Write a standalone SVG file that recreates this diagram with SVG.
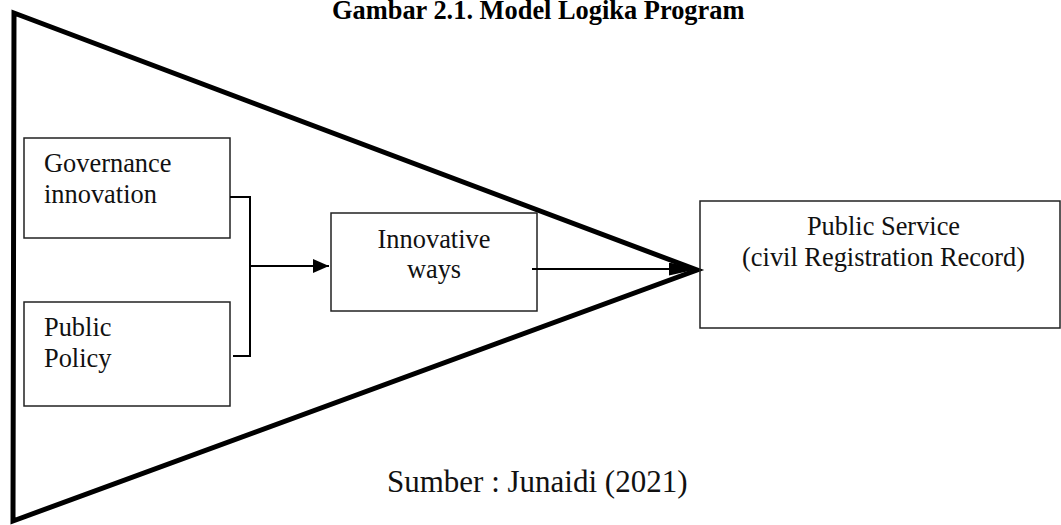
<svg xmlns="http://www.w3.org/2000/svg" width="1061" height="525" viewBox="0 0 1061 525">
  <style>
    .box { fill: none; stroke: #222; stroke-width: 1.5; }
    .lbl { font-family: "Liberation Serif", "Times New Roman", serif; font-size: 26.4px; fill: #111; }
    .line { stroke: #000; stroke-width: 2; fill: none; }
  </style>
  <defs>
    <marker id="arrow" markerWidth="16" markerHeight="14" refX="16" refY="7" orient="auto" markerUnits="userSpaceOnUse">
      <path d="M0,0 L16,7 L0,14 Z" fill="#000"/>
    </marker>
    <marker id="arrowBig" markerWidth="29" markerHeight="13" refX="29" refY="6.5" orient="auto" markerUnits="userSpaceOnUse">
      <path d="M0,0 L29,6.5 L0,13 Z" fill="#000"/>
    </marker>
  </defs>
  <rect width="1061" height="525" fill="#fff"/>

  <text x="332" y="18.5" font-family="Liberation Serif, Times New Roman, serif" font-weight="bold" font-size="26.4" fill="#000">Gambar 2.1. Model Logika Program</text>

  <!-- funnel triangle -->
  <g id="funnel">
    <polygon points="14,13 697,270 13,521" fill="none" stroke="#000" stroke-width="5" stroke-linejoin="miter"/>
  </g>

  <g id="governance">
    <rect class="box" x="24" y="138" width="206" height="100"/>
    <text class="lbl" x="44" y="172">Governance</text>
    <text class="lbl" x="44" y="203">innovation</text>
  </g>

  <g id="policy">
    <rect class="box" x="24" y="302" width="206" height="104"/>
    <text class="lbl" x="44" y="336">Public</text>
    <text class="lbl" x="44" y="367">Policy</text>
  </g>

  <g id="innovative">
    <rect class="box" x="331" y="213" width="206" height="98"/>
    <text class="lbl" x="434" y="248" text-anchor="middle">Innovative</text>
    <text class="lbl" x="434" y="278" text-anchor="middle">ways</text>
  </g>

  <g id="service">
    <rect class="box" x="700" y="201" width="360" height="127"/>
    <text class="lbl" x="883.5" y="235" text-anchor="middle">Public Service</text>
    <text class="lbl" x="883.5" y="266" text-anchor="middle">(civil Registration Record)</text>
  </g>

  <g id="connectors">
    <polyline class="line" points="230,197 250,197 250,356 233,356"/>
    <line class="line" x1="250" y1="266" x2="329" y2="266" marker-end="url(#arrow)"/>
    <line class="line" x1="532" y1="269" x2="698" y2="269" marker-end="url(#arrowBig)"/>
  </g>

  <text x="387" y="492" font-family="Liberation Serif, Times New Roman, serif" font-size="31" fill="#111">Sumber : Junaidi (2021)</text>
</svg>
